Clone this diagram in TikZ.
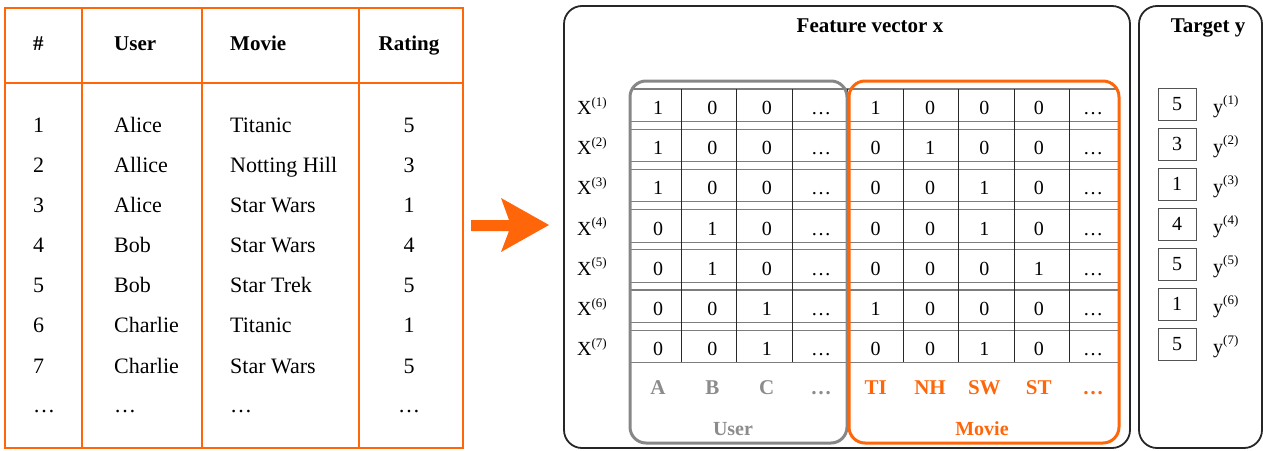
\documentclass[tikz,border=0pt]{standalone}
\usepackage{fontspec}
\setmainfont{Liberation Serif}
\definecolor{org}{RGB}{255,102,10}
\definecolor{gfr}{RGB}{135,135,135}
\definecolor{glab}{RGB}{140,140,140}
\definecolor{hl}{RGB}{125,125,125}
\definecolor{vl}{RGB}{40,40,40}
\newcommand\mysup[1]{\raisebox{0.42em}{\fontsize{13}{13}\selectfont #1}}
\begin{document}
\begin{tikzpicture}[x=1pt,y=-1pt,
  body/.style={font=\fontsize{22}{26}\selectfont, inner sep=0pt, anchor=base west},
  hd/.style={font=\fontsize{21}{25}\selectfont\bfseries, inner sep=0pt, anchor=base west},
  cell/.style={font=\fontsize{20}{24}\selectfont, inner sep=0pt, anchor=base},
  xlab/.style={font=\fontsize{20}{24}\selectfont, inner sep=0pt, anchor=base west},
  title/.style={font=\fontsize{21}{25}\selectfont\bfseries, inner sep=0pt, anchor=base},
  ulab/.style={font=\fontsize{21}{25}\selectfont\bfseries, inner sep=0pt, anchor=base, text=glab},
  mlab/.style={font=\fontsize{21}{25}\selectfont\bfseries, inner sep=0pt, anchor=base, text=org},
  ybox/.style={draw=vl!80, line width=0.9pt, minimum width=38pt, minimum height=32pt, inner sep=0pt, font=\fontsize{20}{24}\selectfont},
  panel/.style={draw=black!85, line width=1.8pt, rounded corners=18pt},
  tline/.style={draw=org, line width=2pt}
]
\useasboundingbox (0,0) rectangle (1263,450);

% ---------------- left table ----------------
\draw[tline] (5,8) rectangle (463,448);
\draw[tline] (5,83) -- (463,83);
\draw[tline] (82,8) -- (82,448);
\draw[tline] (202,8) -- (202,448);
\draw[tline] (359,8) -- (359,448);

\node[hd] (hnum) at (33,50) {\#};
\node[hd] (huser) at (114,50) {User};
\node[hd] (hmovie) at (230,50) {Movie};
\node[hd, anchor=base] (hrating) at (409,50) {Rating};

\foreach \i/\u/\m/\r [count=\k] in {1/Alice/Titanic/5, 2/Allice/Notting Hill/3, 3/Alice/Star Wars/1, 4/Bob/Star Wars/4, 5/Bob/Star Trek/5, 6/Charlie/Titanic/1, 7/Charlie/Star Wars/5}{
  \pgfmathsetmacro\yb{132+40.17*(\k-1)}
  \node[body] (tn\k) at (33,\yb) {\i};
  \node[body] (tu\k) at (114,\yb) {\u};
  \node[body] (tm\k) at (230,\yb) {\m};
  \node[body, anchor=base] (tr\k) at (409,\yb) {\r};
}
\node[body] (tnd) at (33,412) {\ldots};
\node[body] (tud) at (114,412) {\ldots};
\node[body] (tmd) at (230,412) {\ldots};
\node[body, anchor=base] (trd) at (409,412) {\ldots};

% ---------------- arrow ----------------
\coordinate (a1) at (471,220);
\coordinate (a2) at (509,220);
\coordinate (a3) at (501,198);
\coordinate (a4) at (549,225);
\coordinate (a5) at (501,252);
\coordinate (a6) at (509,231);
\coordinate (a7) at (471,231);
\fill[org] (a1) -- (a2) -- (a3) -- (a4) -- (a5) -- (a6) -- (a7) -- cycle;

% ---------------- panels ----------------
\draw[panel] (564,6) rectangle (1130,448);
\draw[panel] (1139,6) rectangle (1262,448);
\node[title] (tfv) at (870,32) {Feature vector x};
\node[title] (tty) at (1208,32) {Target y};

% ---------------- grid ----------------
\foreach \k in {1,...,7}{
  \pgfmathsetmacro\yt{89+40.2*(\k-1)}
  \draw[hl, line width=1.1pt] (631,\yt) -- (1118,\yt);
  \draw[hl, line width=1.1pt] (631,\yt+32.5) -- (1118,\yt+32.5);
}
\foreach \j in {0,...,7}{
  \pgfmathsetmacro\xv{681+55.5*\j}
  \draw[vl, line width=0.8pt] (\xv,89) -- (\xv,361.7);
}

\foreach \rw [count=\k] in {{1,0,0,\ldots,1,0,0,0,\ldots},{1,0,0,\ldots,0,1,0,0,\ldots},{1,0,0,\ldots,0,0,1,0,\ldots},{0,1,0,\ldots,0,0,1,0,\ldots},{0,1,0,\ldots,0,0,0,1,\ldots},{0,0,1,\ldots,1,0,0,0,\ldots},{0,0,1,\ldots,0,0,1,0,\ldots}}{
  \pgfmathsetmacro\yb{114.5+40.2*(\k-1)}
  \node[xlab] (X\k) at (577,\yb) {X\mysup{(\k)}};
  \foreach \v [count=\c] in \rw {
    \pgfmathsetmacro\xc{658+54.4*(\c-1)}
    \node[cell] (c-\k-\c) at (\xc,\yb) {\v};
  }
}

% column labels
\foreach \t [count=\c] in {A,B,C,\ldots}{
  \pgfmathsetmacro\xc{658+54.4*(\c-1)}
  \node[ulab] (ul\c) at (\xc,394) {\t};
}
\foreach \t [count=\c] in {TI,NH,SW,ST,\ldots}{
  \pgfmathsetmacro\xc{875.6+54.4*(\c-1)}
  \node[mlab] (ml\c) at (\xc,394) {\t};
}
\node[ulab, font=\fontsize{20}{24}\selectfont\bfseries] (uname) at (733,435) {User};
\node[mlab, font=\fontsize{20}{24}\selectfont\bfseries] (mname) at (982,435) {Movie};

% frames
\draw[gfr, line width=3pt, rounded corners=16pt] (630,81) rectangle (847,443);
\draw[org, line width=3pt, rounded corners=16pt] (849,81) rectangle (1119,443);

% ---------------- target ----------------
\foreach \v [count=\k] in {5,3,1,4,5,1,5}{
  \pgfmathsetmacro\yc{104+40*(\k-1)}
  \node[ybox] (t\k) at (1177,\yc) {\v};
  \node[xlab] (y\k) at (1213,\yc+9) {y\mysup{(\k)}};
}
\end{tikzpicture}
\end{document}
